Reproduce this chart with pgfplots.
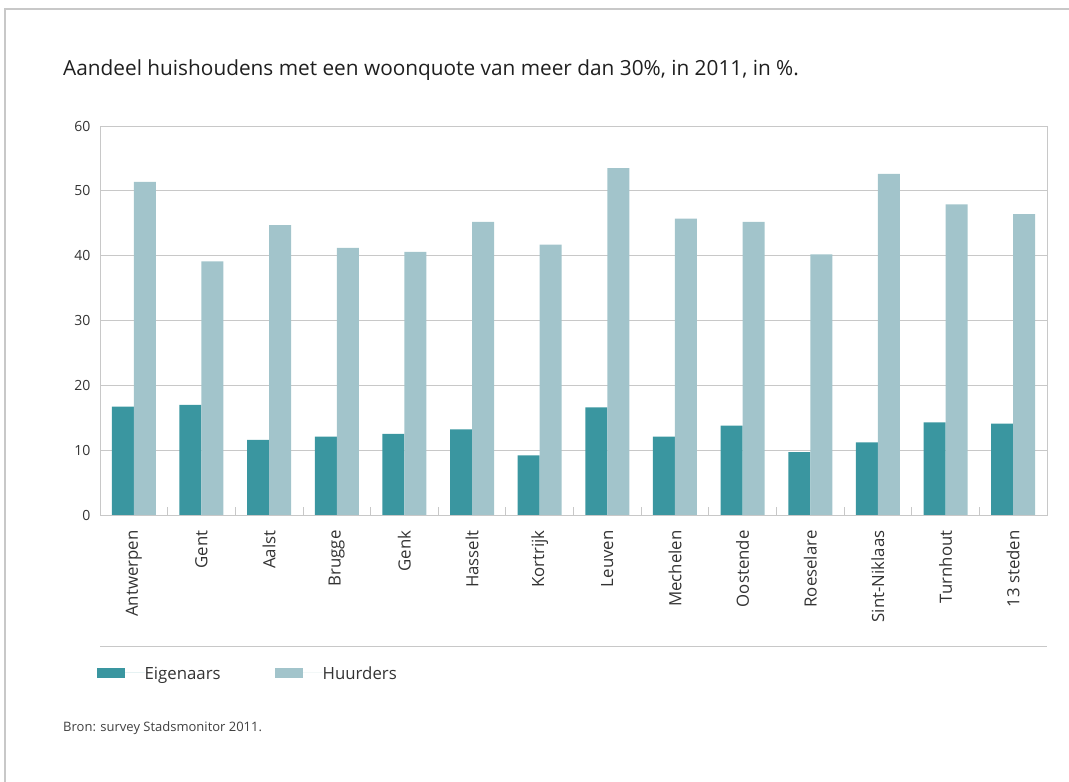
\documentclass[border=0pt]{standalone}
\usepackage{pgfplots}
\pgfplotsset{compat=1.18}
\usepackage{pgfplotstable}
\usepackage{fontspec}
\setmainfont{Open Sans}
\definecolor{eig}{HTML}{3A96A0}
\definecolor{huur}{HTML}{A2C4CB}
\definecolor{gridc}{HTML}{C8C8C8}
\pgfplotstableread{
x name Eig Huur
0 Antwerpen 16.7 51.4
1 Gent 17.0 39.1
2 Aalst 11.6 44.7
3 Brugge 12.1 41.2
4 Genk 12.5 40.6
5 Hasselt 13.2 45.2
6 Kortrijk 9.2 41.7
7 Leuven 16.6 53.5
8 Mechelen 12.1 45.7
9 Oostende 13.8 45.2
10 Roeselare 9.7 40.2
11 Sint-Niklaas 11.2 52.6
12 Turnhout 14.3 47.9
13 {13 steden} 14.1 46.4
}\datatable
\begin{document}
\begin{tikzpicture}
\path[use as bounding box] (0pt,0pt) rectangle (1069pt,782pt);
\draw[gridc,line width=1.2pt] (5pt,0pt) -- (5pt,773pt) -- (1069pt,773pt);
\node[anchor=west,inner sep=0pt,font=\fontsize{20.8}{23}\selectfont,text=black!88] at (63pt,712pt) {Aandeel huishoudens met een woonquote van meer dan 30\%, in 2011, in \%.};
\begin{axis}[
  at={(100pt,267pt)}, anchor=south west,
  scale only axis, width=947pt, height=389pt,
  ybar=0pt, bar width=22pt,
  xmin=-0.5, xmax=13.5, ymin=0, ymax=60,
  xtick=data,
  xticklabels from table={\datatable}{name},
  x tick label style={rotate=90, anchor=east, font=\fontsize{16.8}{19}\selectfont, text=black!80},
  xticklabel shift=12pt,
  major x tick style={draw=none},
  minor xtick={0.5,1.5,...,12.5},
  minor x tick style={gridc, line width=0.8pt},
  minor tick length=8pt,
  xtick pos=bottom,
  tick align=inside,
  ytick={0,10,...,60},
  ymajorgrids, grid style={gridc, line width=0.9pt},
  major y tick style={draw=none},
  y tick label style={font=\fontsize{14}{16}\selectfont, text=black!80},
  yticklabel style={xshift=-6pt},
  /pgf/number format/assume math mode=true,
  axis line style={gridc, line width=0.9pt},
  legend style={at={(-0.007,-0.406)}, anchor=west, draw=none, fill=none,
    legend columns=2, font=\fontsize{16.8}{19}\selectfont, text=black!80,
    /tikz/every even column/.style={column sep=54pt},
    nodes={inner sep=0pt, text depth=0pt}},
  legend image code/.code={\fill[#1] (0pt,-5pt) rectangle (28pt,5pt); \path (28pt,0pt) -- (48pt,0pt);},
  legend cell align=left,
]
\addplot[fill=eig, draw=none] table[x=x, y=Eig] {\datatable};
\addplot[fill=huur, draw=none] table[x=x, y=Huur] {\datatable};
\legend{Eigenaars, Huurders}
\end{axis}
\draw[gridc, line width=1pt] (100pt,135pt) -- (1047pt,135pt);
\node[anchor=west,inner sep=0pt,font=\fontsize{13}{16}\selectfont,text=black!75] at (63pt,54pt) {Bron: survey Stadsmonitor 2011.};
\end{tikzpicture}
\end{document}
